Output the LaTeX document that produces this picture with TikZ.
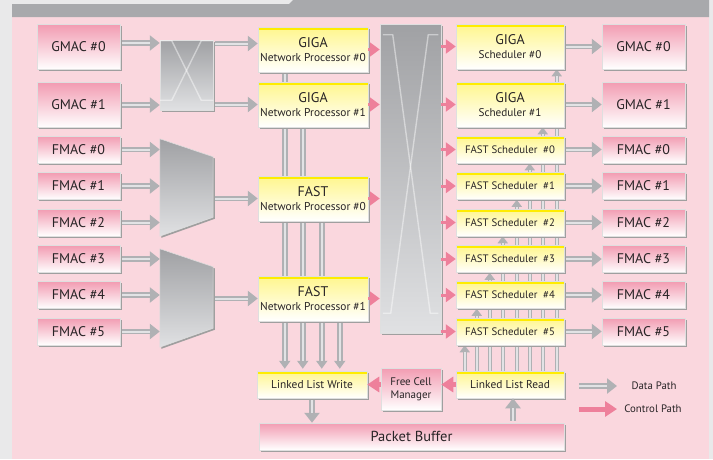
\documentclass[tikz,border=0pt]{standalone}
\usepackage{fontspec}
\setmainfont{PT Sans}
\usetikzlibrary{arrows.meta,calc,shadows}

\definecolor{outgray}{RGB}{233,233,234}
\definecolor{bargray}{RGB}{168,169,172}
\definecolor{panel}{RGB}{250,215,222}
\definecolor{macpink}{RGB}{242,156,178}
\definecolor{npyel}{RGB}{255,246,140}
\definecolor{yeltop}{RGB}{255,236,0}
\definecolor{xbtop}{RGB}{160,161,164}
\definecolor{xbbot}{RGB}{224,225,227}
\definecolor{pipe}{RGB}{176,177,180}
\definecolor{pipein}{RGB}{226,227,229}
\definecolor{ctl}{RGB}{238,128,155}
\definecolor{txt}{RGB}{40,36,38}

\pgfdeclarelayer{bg}
\pgfsetlayers{bg,main}

\begin{document}
\begin{tikzpicture}[
  x=1pt, y=-1pt,
  font=\fontsize{10.8}{12}\selectfont,
  shad/.style={drop shadow={shadow xshift=1.6pt, shadow yshift=-1.6pt, fill=gray!75, opacity=1}},
  box/.style={shad, draw=white!75!gray, line width=0.5pt, inner sep=0pt, text=txt, align=center},
  mac/.style={box, top color=macpink, bottom color=white, minimum width=83pt, minimum height=27pt,
              font=\fontsize{14}{15}\selectfont},
  gmac/.style={mac, minimum height=45pt},
  yel/.style={box, top color=npyel, bottom color=white,
              path picture={\fill[yeltop] (path picture bounding box.north west)
                rectangle ([yshift=-2.5pt]path picture bounding box.north east);}},
  np/.style={yel, minimum width=110pt, minimum height=45pt, font=\fontsize{11.4}{14}\selectfont},
  sch/.style={yel, minimum width=108pt, minimum height=27pt},
  gsch/.style={sch, minimum height=45pt, font=\fontsize{11.2}{14}\selectfont},
  xb/.style={box, top color=xbtop, bottom color=xbbot},
  muxshape/.style={shad, top color=xbtop, bottom color=xbbot, draw=white!75!gray, line width=0.5pt},
  xline/.style={draw=white, opacity=0.45, line width=1.4pt},
  pipearr/.style n args={5}{draw=pipe, line width=#1, shorten <=#5,
      -{Triangle[length=#3,width=#4]},
      postaction={draw=pipein, line width=#2, -, shorten >=#3}},
  dp/.style={pipearr={5.5pt}{2pt}{10pt}{15pt}{2pt}},
  dpv/.style={pipearr={5.5pt}{2pt}{8pt}{11pt}{0pt}},
  dps/.style={pipearr={4.5pt}{1.5pt}{7pt}{10pt}{0pt}},
  cp/.style={draw=ctl, line width=3pt, -{Triangle[length=10pt,width=14pt]}},
  cpb/.style={draw=ctl, line width=5pt, -{Triangle[length=12pt,width=15pt]}},
  lbl/.style={text=txt, inner sep=0pt, font=\fontsize{10.8}{12}\selectfont}
]
\useasboundingbox (0,0) rectangle (713,459);
\begin{pgfonlayer}{bg}
  \fill[outgray] (0,0) rectangle (713,459);
  \fill[panel] (12,17) rectangle (709,459);
  \fill[bargray] (12,4) -- (289,4) -- (293,0) -- (709,0) -- (709,17) -- (12,17) -- cycle;
\end{pgfonlayer}

% MACs on the input side
\node[gmac] (gmacL0) at (78.5,47)  {GMAC \#0};
\node[gmac] (gmacL1) at (78.5,105) {GMAC \#1};
\foreach \i/\y in {0/149.5,1/186,2/222.5,3/259,4/295,5/331.5}
  \node[mac] (fmacL\i) at (78.5,\y) {FMAC \#\i};

% small switch and muxes
\node[xb, minimum width=53pt, minimum height=70pt] (xs) at (186.5,75) {};
\draw[xline] ($(xs.north west)+(0,1)$) -- ++(12,0) -- ($(xs.south east)+(-12,-10)$) -- ++(12,0);
\draw[xline] ($(xs.north east)+(0,1)$) -- ++(-12,0) -- ($(xs.south west)+(12,-10)$) -- ++(-12,0);
\node[inner sep=0pt, minimum width=53pt, minimum height=97pt] (mux0) at (186.5,187.5) {};
\node[inner sep=0pt, minimum width=53pt, minimum height=98pt] (mux1) at (186.5,298) {};
\foreach \m in {mux0,mux1}
  \path[muxshape] (\m.north west) -- ($(\m.north east)+(0,18)$)
    -- ($(\m.south east)+(0,-19)$) -- (\m.south west) -- cycle;

% network processors
\node[np] (gnp0) at (313,49.5)  {{\fontsize{14}{14}\selectfont GIGA}\\Network Processor \#0};
\node[np] (gnp1) at (313,104.5) {{\fontsize{14}{14}\selectfont GIGA}\\Network Processor \#1};
\node[np] (fnp0) at (313,198.5) {{\fontsize{14}{14}\selectfont FAST}\\Network Processor \#0};
\node[np] (fnp1) at (313,298.5) {{\fontsize{14}{14}\selectfont FAST}\\Network Processor \#1};

% big switch
\node[xb, minimum width=61pt, minimum height=309pt] (xb) at (410.5,178.5) {};
\draw[xline] ($(xb.north west)+(3,11)$) -- ++(10,0) -- ($(xb.south east)+(-11,-20)$) -- ++(8,0);
\draw[xline] ($(xb.north east)+(-3,11)$) -- ++(-10,0) -- ($(xb.south west)+(11,-20)$) -- ++(-8,0);

% schedulers
\node[gsch] (gs0) at (510,46.5)  {{\fontsize{14}{14}\selectfont GIGA}\\Scheduler \#0};
\node[gsch] (gs1) at (510,104.5) {{\fontsize{14}{14}\selectfont GIGA}\\Scheduler \#1};
\foreach \i/\y in {0/149.5,1/186,2/222.5,3/259,4/295,5/331.5}
  \node[sch] (fs\i) at (510,\y) {FAST Scheduler\ \ \#\i};

% MACs on the output side
\node[gmac] (gmacR0) at (643.5,46.5)  {GMAC \#0};
\node[gmac] (gmacR1) at (643.5,104.5) {GMAC \#1};
\foreach \i/\y in {0/149.5,1/186,2/222.5,3/259,4/295,5/331.5}
  \node[mac] (fmacR\i) at (643.5,\y) {FMAC \#\i};

% buffer management
\node[sch, minimum width=110pt, font=\fontsize{11.4}{12}\selectfont] (llw) at (312,384.5) {Linked List Write};
\node[mac, minimum width=60pt, minimum height=42pt, font=\fontsize{11}{13}\selectfont] (fcm) at (411,389) {Free Cell\\Manager};
\node[sch, font=\fontsize{11.4}{12}\selectfont] (llr) at (510,384.5) {Linked List Read};
\node[mac, minimum width=305pt, minimum height=27pt, font=\fontsize{14.5}{15}\selectfont] (pb) at (411.5,436.5) {Packet Buffer};

% legend
\coordinate (ld) at (579,386);
\coordinate (lc) at (579,409);
\node[lbl] (ldata) at (654,386) {Data Path};
\node[lbl] (lctrl) at (653,409) {Control Path};

% data path
\draw[dp] ([yshift=4pt]gmacL0.east) -- ([yshift=4pt]gmacL0.east -| xs.west);
\draw[dp] (gmacL1.east) -- (gmacL1.east -| xs.west);
\draw[dp] ([yshift=6pt]gnp0.west -| xs.east) -- ([yshift=6pt]gnp0.west);
\draw[dp] (gnp1.west -| xs.east) -- (gnp1.west);
\foreach \i in {0,1,2} \draw[dp] (fmacL\i.east) -- (fmacL\i.east -| mux0.west);
\foreach \i in {3,4,5} \draw[dp] (fmacL\i.east) -- (fmacL\i.east -| mux1.west);
\draw[dp] (fnp0.west -| mux0.east) -- (fnp0.west);
\draw[dp] (fnp1.west -| mux1.east) -- (fnp1.west);
\draw[dp] (gs0.east) -- (gmacR0.west);
\draw[dp] (gs1.east) -- (gmacR1.west);
\foreach \i in {0,...,5} \draw[dp] (fs\i.east) -- (fmacR\i.west);
\begin{pgfonlayer}{bg}
  \foreach \src/\dx [count=\i] in {gnp0/28,gnp1/46,fnp0/65,fnp1/83}{
    \path (llw.north west) ++(\dx,0) coordinate (w\i);
    \draw[dpv] (\src.south -| w\i) -- ([yshift=2pt]w\i);
  }
  \foreach \dst/\dx [count=\i] in {fs5/9,fs4/21,fs3/34,fs2/47,fs1/61,fs0/74,gs1/87,gs0/101}{
    \path (llr.north west) ++(\dx,0) coordinate (r\i);
    \draw[dps] (r\i) -- (r\i |- \dst.south);
  }
\end{pgfonlayer}
\draw[dp] (llw.south) -- (llw.south |- pb.north);
\draw[dp] ([xshift=3pt]llr.south |- pb.north) -- ([xshift=3pt]llr.south);

% control path
\foreach \n in {gnp0,gnp1,fnp0,fnp1} \draw[cp] (\n.east) -- (\n.east -| xb.west);
\foreach \n in {gs0,gs1,fs0,fs1,fs2,fs3,fs4,fs5} \draw[cp] (\n.west -| xb.east) -- (\n.west);
\draw[cpb] (llr.west) -- (llr.west -| fcm.east);
\draw[cpb] (llw.east -| fcm.west) -- (llw.east);

\draw[dp, shorten <=0pt] (ld) -- ++(38,0);
\draw[cpb] (lc) -- ++(38,0);
\end{tikzpicture}
\end{document}
